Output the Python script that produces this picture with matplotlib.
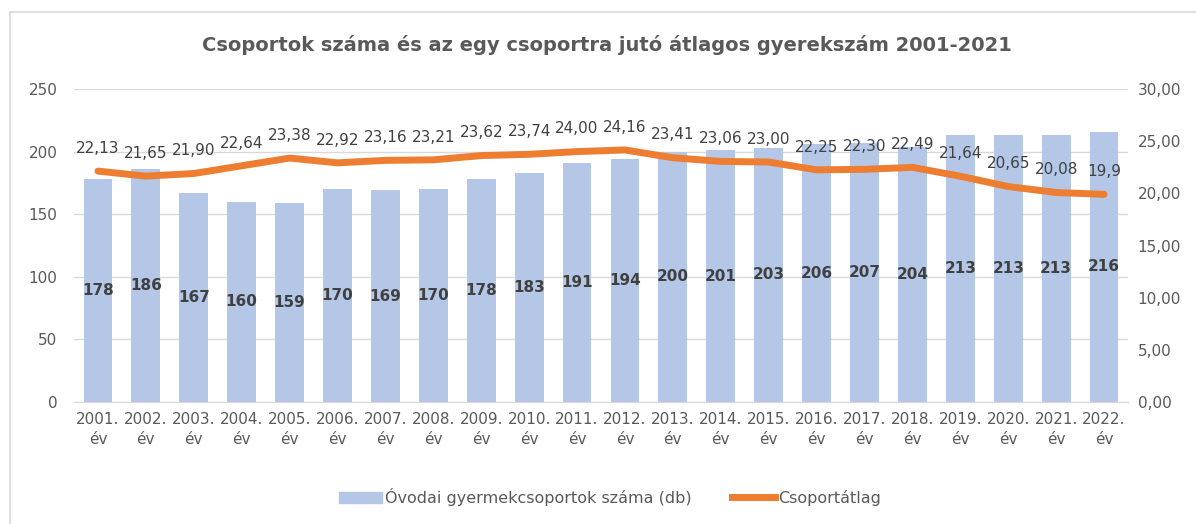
import numpy as np
import matplotlib
matplotlib.use("Agg")
import matplotlib.pyplot as plt
from matplotlib.lines import Line2D

plt.rcParams.update({"font.family": ["DejaVu Sans"], "font.size": 10.5})

years = [f"{y}.\név" for y in range(2001, 2023)]
groups = [178, 186, 167, 160, 159, 170, 169, 170, 178, 183, 191, 194,
          200, 201, 203, 206, 207, 204, 213, 213, 213, 216]
avg = [22.13, 21.65, 21.90, 22.64, 23.38, 22.92, 23.16, 23.21, 23.62, 23.74, 24.00,
       24.16, 23.41, 23.06, 23.00, 22.25, 22.30, 22.49, 21.64, 20.65, 20.08, 19.9]
avg_labels = ["22,13", "21,65", "21,90", "22,64", "23,38", "22,92", "23,16", "23,21",
              "23,62", "23,74", "24,00", "24,16", "23,41", "23,06", "23,00", "22,25",
              "22,30", "22,49", "21,64", "20,65", "20,08", "19,9"]

BAR = "#B4C7E7"; LINE = "#ED7D31"; TXT = "#595959"; GRID = "#D9D9D9"

W, H = 1196, 524
fig = plt.figure(figsize=(W/100, H/100), dpi=100)
ax = fig.add_axes([74/W, 1-402/H, (1128-74)/W, (402-89)/H])
x = np.arange(len(years))

ax.bar(x, groups, width=0.6, color=BAR, zorder=2)
ax.set_ylim(0, 250); ax.set_xlim(-0.5, len(years)-0.5)
ax.set_yticks(range(0, 251, 50))
ax.grid(axis="y", color=GRID, lw=1, zorder=0)
ax.set_axisbelow(True)
for s in ax.spines.values():
    s.set_visible(False)
ax.spines["bottom"].set_visible(True); ax.spines["bottom"].set_color(GRID)
ax.tick_params(length=0, colors=TXT, labelsize=11)
ax.tick_params(axis="y", pad=12)
ax.set_xticks(x); ax.set_xticklabels(years, linespacing=1.4)
ax.tick_params(axis="x", pad=7)
for xi, v in zip(x, groups):
    ax.text(xi, v/2, str(v), ha="center", va="center", fontsize=11,
            fontweight="bold", color="#404040", zorder=4)

ax2 = ax.twinx()
ax2.plot(x, avg, color=LINE, lw=5, solid_capstyle="round", zorder=3)
ax2.set_ylim(0, 30); ax2.set_yticks(range(0, 31, 5))
ax2.set_yticklabels([f"{v},00" for v in range(0, 31, 5)])
for s in ax2.spines.values():
    s.set_visible(False)
ax2.tick_params(length=0, colors=TXT, labelsize=11, pad=7)
for xi, v, lab in zip(x, avg, avg_labels):
    ax2.annotate(lab, (xi, v), xytext=(0, 11), textcoords="offset points",
                 ha="center", va="bottom", fontsize=11, color="#404040")

fig.text(607/W, 1-45/H, "Csoportok száma és az egy csoportra jutó átlagos gyerekszám 2001-2021",
         ha="center", va="center", fontsize=14, fontweight="bold", color=TXT)

handles = [plt.Rectangle((0, 0), 1, 1, color=BAR), Line2D([], [], color=LINE, lw=5)]
fig.legend(handles, ["Óvodai gyermekcsoportok száma (db)", "Csoportátlag"],
           loc="center", bbox_to_anchor=(0.51, 1-497/H), ncol=2, frameon=False,
           fontsize=11.5, labelcolor=TXT, handlelength=2.7, handletextpad=0.2,
           columnspacing=2.5)

# chart border
fig.add_artist(Line2D([9.5/W, 9.5/W], [0, 1-12/H], color=GRID, lw=1.2))
fig.add_artist(Line2D([9.5/W, 1], [1-12/H, 1-12/H], color=GRID, lw=1.2))

fig.savefig("out.png", dpi=100)
